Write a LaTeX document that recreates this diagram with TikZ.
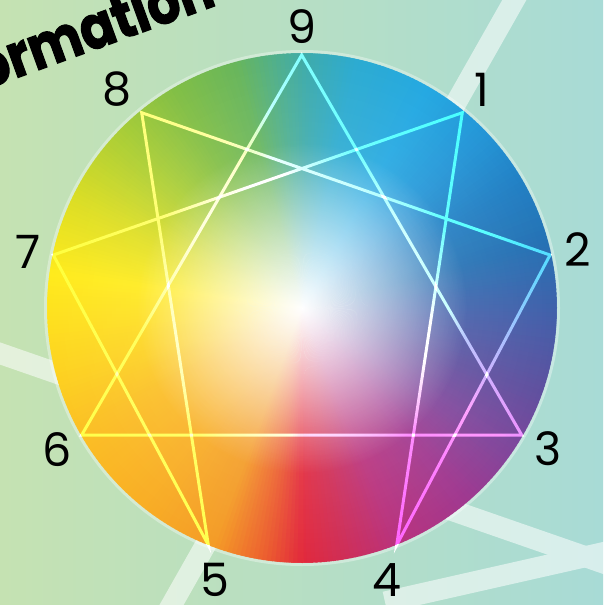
\documentclass[tikz,border=0pt]{standalone}
\usepackage{fontspec}
\newfontfamily\pop{Poppins}
\newfontfamily\popheavy{Poppins}[BoldFeatures={FakeBold=1.8}]
\usetikzlibrary{fadings}
\tikzfading[name=ctrfade, inner color=transparent!0, outer color=transparent!100]
\definecolor{bgL}{HTML}{C5E2B2}
\definecolor{bgR}{HTML}{A8DBD6}
\definecolor{w0}{HTML}{E2263A}
\definecolor{w1}{HTML}{D22A50}
\definecolor{w2}{HTML}{B8307C}
\definecolor{w3}{HTML}{A0368E}
\definecolor{w4}{HTML}{80449A}
\definecolor{w5}{HTML}{5F4E9E}
\definecolor{w6}{HTML}{3D5FAA}
\definecolor{w7}{HTML}{2270B3}
\definecolor{w8}{HTML}{1F7FC4}
\definecolor{w9}{HTML}{2196D8}
\definecolor{w10}{HTML}{22A8E2}
\definecolor{w11}{HTML}{2AAAD0}
\definecolor{w12}{HTML}{3AAAAE}
\definecolor{w13}{HTML}{4BAE90}
\definecolor{w14}{HTML}{66B55A}
\definecolor{w15}{HTML}{80BE44}
\definecolor{w16}{HTML}{B4D130}
\definecolor{w17}{HTML}{DDDE22}
\definecolor{w18}{HTML}{FFEB1A}
\definecolor{w19}{HTML}{FDD21E}
\definecolor{w20}{HTML}{FBBE22}
\definecolor{w21}{HTML}{F9AE22}
\definecolor{w22}{HTML}{F49A24}
\definecolor{w23}{HTML}{EC5A2C}
\tikzset{
  stripe/.style={white, line width=21pt},
  starline/.style={white, line width=3pt, line join=miter},
  numlabel/.style={font=\pop\fontsize{46}{46}\selectfont, inner sep=0pt, text=black}
}
\begin{document}
\begin{tikzpicture}[x=1pt,y=1pt]
\useasboundingbox (0,0) rectangle (603,-605);
\clip (0,0) rectangle (603,-605);
% background
\shade[left color=bgL, right color=bgR] (0,0) rectangle (603,-605);
% stripes
\coordinate (s1a) at (520,10);
\coordinate (s1b) at (163,-620);
\coordinate (s2a) at (-10,-350);
\coordinate (s2b) at (615,-567);
\coordinate (s3a) at (385,-602);
\coordinate (s3b) at (615,-550);
\begin{scope}[transparency group, opacity=0.55]
  \draw[stripe] (s1a) -- (s1b);
  \draw[stripe] (s2a) -- (s2b);
  \draw[stripe] (s3a) -- (s3b);
\end{scope}
% title fragment
\node[font=\popheavy\bfseries\fontsize{60}{60}\selectfont, rotate=20, xscale=0.86, anchor=base west, inner sep=0pt] (title) at (-16,-90) {ormation};
% colour wheel
\coordinate (C) at (302,-308);
\foreach \a/\ca/\b/\cb in {-90/w0/-82/w1, -82/w1/-68/w2, -68/w2/-50/w3, -50/w3/-35/w4, -35/w4/-20/w5, -20/w5/0/w6, 0/w6/15/w7, 15/w7/30/w8, 30/w8/45/w9, 45/w9/60/w10, 60/w10/78/w11, 78/w11/88/w12, 88/w12/95/w13, 95/w13/105/w14, 105/w14/120/w15, 120/w15/140/w16, 140/w16/155/w17, 155/w17/172/w18, 172/w18/195/w19, 195/w19/210/w20, 210/w20/230/w21, 230/w21/250/w22, 250/w22/262/w23, 262/w23/270/w0}{
  \pgfmathtruncatemacro\n{\b-\a}
  \foreach \i in {1,...,\n}{
    \pgfmathtruncatemacro\p{100*(\i-0.5)/\n}
    \pgfmathsetmacro\s{\a+\i-1}
    \pgfmathsetmacro\e{\a+\i+0.4}
    \fill[\cb!\p!\ca] (C) -- ++(\s:255pt) arc[start angle=\s, end angle=\e, radius=255pt] -- cycle;
  }
}
\begin{scope}
  \clip (C) circle[radius=255pt];
  \fill[white, path fading=ctrfade] (C) circle[radius=165pt];
  \fill[white, opacity=0.22, path fading=ctrfade] (C) circle[radius=270pt];
\end{scope}
\draw[white, opacity=0.35, line width=3pt] (C) circle[radius=256.5pt];
% enneagram points
\coordinate (p9) at (301.7,-55);
\coordinate (p1) at (462.3,-112.7);
\coordinate (p2) at (550,-255);
\coordinate (p3) at (521.7,-435);
\coordinate (p4) at (396.7,-545);
\coordinate (p5) at (208.3,-545);
\coordinate (p6) at (81.7,-435);
\coordinate (p7) at (53.3,-255);
\coordinate (p8) at (141.7,-112.7);
\begin{scope}[blend mode=overlay]
  \draw[starline] (p9) -- (p3) -- (p6) -- cycle;
  \draw[starline] (p1) -- (p4) -- (p2) -- (p8) -- (p5) -- (p7) -- cycle;
\end{scope}
% labels
\node[numlabel] (l9) at (302,-27) {9};
\node[numlabel] (l1) at (482,-90) {1};
\node[numlabel] (l2) at (578,-250) {2};
\node[numlabel] (l3) at (548,-449) {3};
\node[numlabel] (l4) at (387,-580) {4};
\node[numlabel] (l5) at (215,-580) {5};
\node[numlabel] (l6) at (57,-450) {6};
\node[numlabel] (l7) at (28,-252) {7};
\node[numlabel] (l8) at (117,-89) {8};
\end{tikzpicture}
\end{document}
